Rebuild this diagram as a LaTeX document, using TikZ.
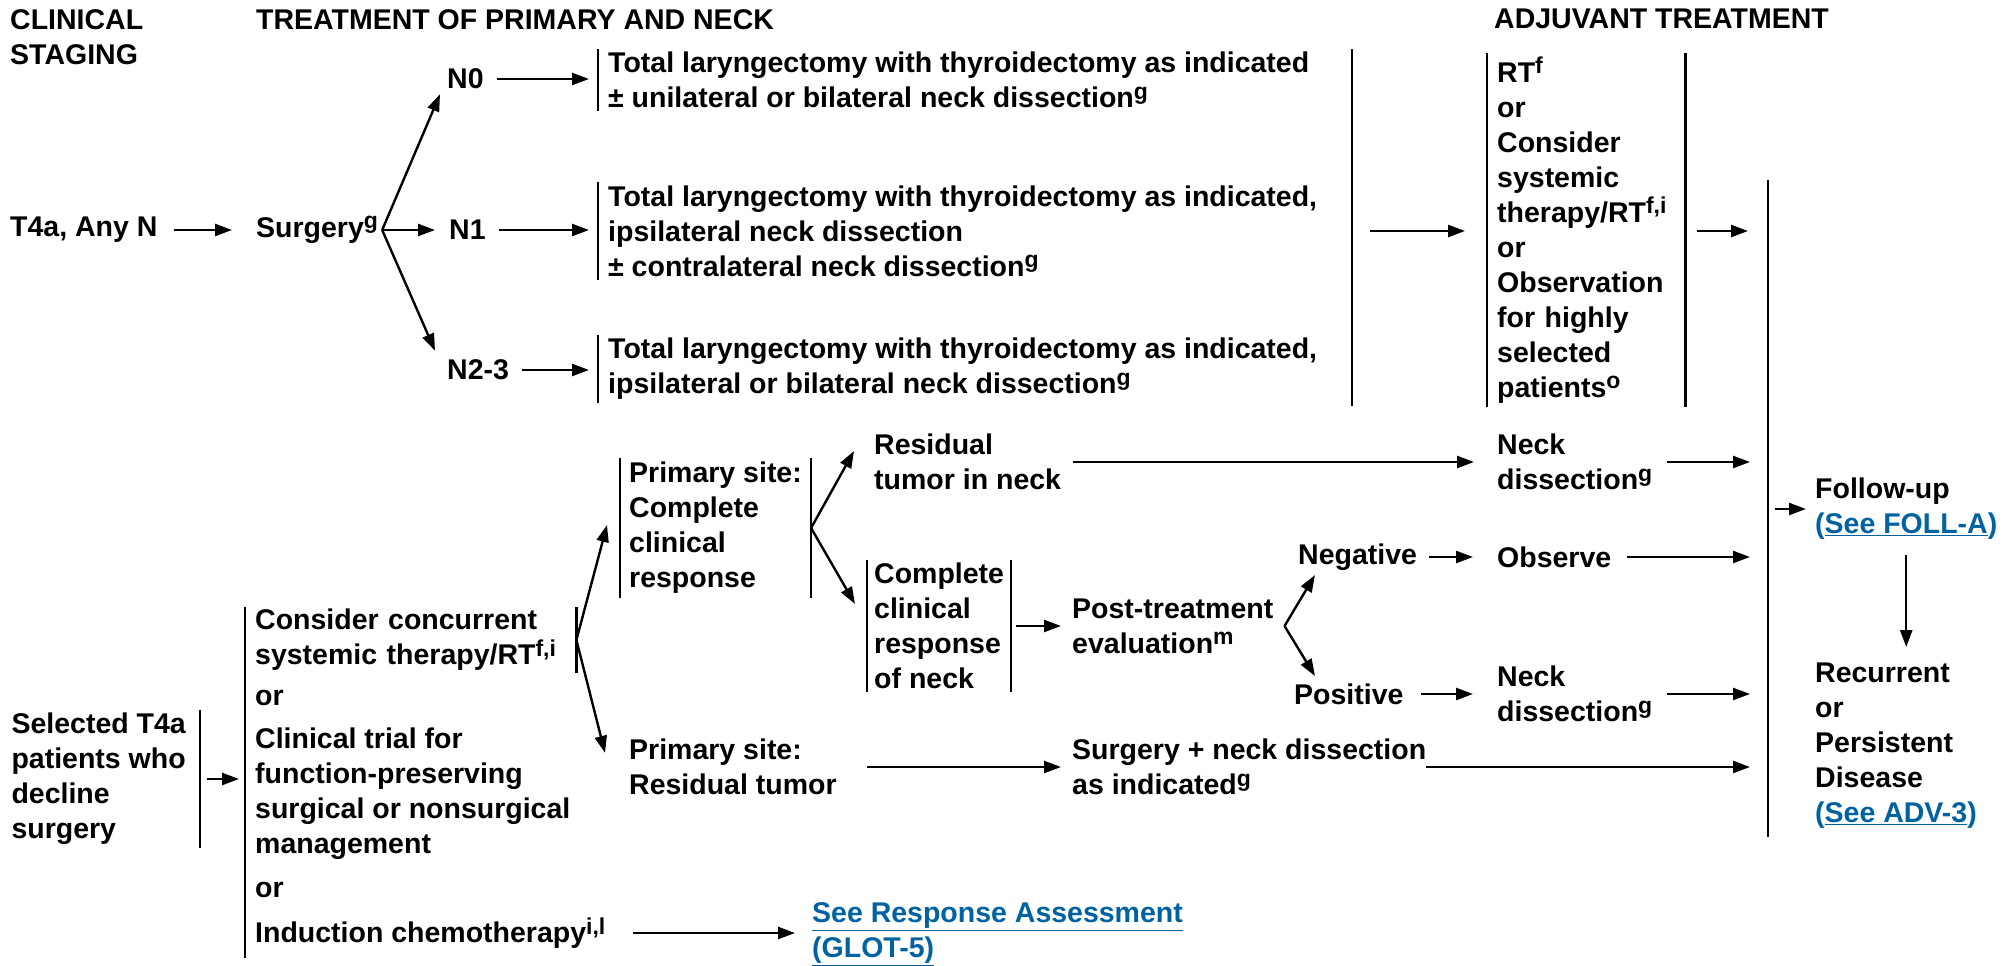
\documentclass[tikz,border=0pt]{standalone}
\usepackage{fontspec}
\setmainfont{Liberation Sans}
\usetikzlibrary{arrows.meta}
\definecolor{linkblue}{RGB}{0,98,160}
\newcommand{\sq}[1]{\raisebox{0.3em}{\fontsize{23}{23}\selectfont #1}}
\newcommand{\lnk}[1]{\textcolor{linkblue}{#1}}

\begin{document}
\begin{tikzpicture}[x=1pt, y=-1pt,
  every node/.style={font=\bfseries\fontsize{28.5}{35}\selectfont, align=left, inner sep=0pt},
  txt/.style={anchor=west},
  blk/.style={anchor=west, inner xsep=10pt, inner ysep=3pt},
  arr/.style={-{Triangle[length=17pt,width=12pt]}, line width=2.4pt, shorten <=13pt, shorten >=13pt},
  fan/.style={arr, shorten <=0pt, shorten >=0pt},
  bar/.style={line width=2.4pt}]

\useasboundingbox (0,0) rectangle (2011,966);

% headings
\node[anchor=north west] (hstage) at (10,9) {CLINICAL\\STAGING};
\node[anchor=north west] (htreat) at (256,9) {TREATMENT OF PRIMARY AND NECK};
\node[anchor=north west] (hadj) at (1494,9) {ADJUVANT TREATMENT};

% surgery
\node[txt] (t4a) at (10,230) {T4a, Any N};
\node[txt] (surg) at (256,230) {Surgery\sq{g}};
\coordinate (split0) at ([xshift=4pt]surg.east);
\node[txt] (n0) at (447,79) {N0};
\node[txt] (n1) at (449,230) {N1};
\node[txt] (n23) at (447,370) {N2-3};
\node[blk] (b0) at (598,80) {Total laryngectomy with thyroidectomy as indicated\\± unilateral or bilateral neck dissection\sq{g}};
\node[blk] (b1) at (598,231) {Total laryngectomy with thyroidectomy as indicated,\\ipsilateral neck dissection\\± contralateral neck dissection\sq{g}};
\node[blk] (b2) at (598,369) {Total laryngectomy with thyroidectomy as indicated,\\ipsilateral or bilateral neck dissection\sq{g}};
\coordinate (jtop) at (1352,49);
\coordinate (jbot) at (1352,406);
\node[blk, text width=178pt, inner ysep=4pt] (rt) at (1487,230) {RT\sq{f}\\or\\Consider\\systemic\\therapy/RT\sq{f,i}\\or\\Observation\\for highly\\selected\\patients\sq{o}};

% follow-up
\coordinate (ftop) at (1768,180);
\coordinate (fbot) at (1768,837);
\node[txt] (follow) at (1815,509) {Follow-up\\\lnk{(\underline{See FOLL-A})}};
\node[txt] (recur) at (1815,746) {Recurrent\\or\\Persistent\\Disease\\\lnk{(\underline{See ADV-3})}};

% declined surgery
\node[anchor=east, inner xsep=14pt, inner ysep=3pt] (sel) at (200,779) {Selected T4a\\patients who\\decline\\surgery};
\node[anchor=west, inner xsep=10pt, inner ysep=2pt, text width=311pt] (opt1) at (245,640) {Consider concurrent\\systemic therapy/RT\sq{f,i}};
\node[txt] (or1) at (255,698) {or};
\node[txt] (opt2) at (255,794) {Clinical trial for\\function-preserving\\surgical or nonsurgical\\management};
\node[txt] (or2) at (255,890) {or};
\node[txt] (opt3) at (255,933) {Induction chemotherapy\sq{i,l}};
\node[blk, inner xsep=9pt, inner ysep=4pt] (pcr) at (620,528) {Primary site:\\Complete\\clinical\\response};
\node[txt] (prt) at (629,767) {Primary site:\\Residual tumor};
\node[txt] (resid) at (874,462) {Residual\\tumor in neck};
\node[blk, inner xsep=7pt] (ccrn) at (867,626) {Complete\\clinical\\response\\of neck};
\node[txt] (post) at (1072,626) {Post-treatment\\evaluation\sq{m}};
\coordinate (split3) at ([xshift=11pt]post.east);
\node[txt] (neg) at (1298,557) {Negative};
\node[txt] (pos) at (1294,694) {Positive};
\node[txt] (nd1) at (1497,462) {Neck\\dissection\sq{g}};
\node[txt] (obs) at (1497,557) {Observe};
\node[txt] (nd2) at (1497,694) {Neck\\dissection\sq{g}};
\node[txt] (surg2) at (1072,767) {Surgery + neck dissection\\as indicated\sq{g}};
\node[txt] (seeresp) at (812,934) {\lnk{\underline{See Response Assessment}}\\\lnk{\underline{(GLOT-5)}}};

% bars
\draw[bar] (b0.north west) -- (b0.south west);
\draw[bar] (b1.north west) -- (b1.south west);
\draw[bar] (b2.north west) -- (b2.south west);
\draw[bar] (jtop) -- (jbot);
\draw[bar] (rt.north west) -- (rt.south west);
\draw[bar] (rt.north east) -- (rt.south east);
\draw[bar] (ftop) -- (fbot);
\draw[bar] (sel.north east) -- (sel.south east);
\draw[bar] (opt1.north west) -- ([yshift=-9pt]opt1.north west |- opt3.south);
\draw[bar] (opt1.north east) -- (opt1.south east);
\draw[bar] (pcr.north west) -- (pcr.south west);
\draw[bar] (pcr.north east) -- (pcr.south east);
\draw[bar] (ccrn.north west) -- (ccrn.south west);
\draw[bar] (ccrn.north east) -- (ccrn.south east);

% arrows, top
\draw[arr, shorten <=16pt, shorten >=24pt] (t4a.east) -- (surg.west);
\draw[fan] (split0) -- ([xshift=-7pt,yshift=-5pt]n0.south west);
\draw[fan] (split0) -- ([xshift=-14pt]n1.west);
\draw[fan] (split0) -- ([xshift=-12pt,yshift=9pt]n23.north west);
\draw[arr, shorten >=9pt] (n0.east) -- (n0.east -| b0.west);
\draw[arr, shorten >=9pt] (n1.east) -- (n1.east -| b1.west);
\draw[arr, shorten >=9pt] (n23.east) -- (n23.east -| b2.west);
\draw[arr, shorten <=18pt, shorten >=22pt] (jtop |- b1.west) -- (rt.west |- b1.west);
\draw[arr, shorten <=12pt, shorten >=20pt] (rt.east |- b1.west) -- (ftop |- b1.west);
\draw[arr, shorten <=7pt, shorten >=9pt] (ftop |- follow.west) -- (follow.west);
\draw[arr, shorten <=15pt, shorten >=16pt] (follow.south) -- (follow.south |- recur.north);

% arrows, bottom
\draw[arr, shorten <=7pt, shorten >=6pt] (sel.east) -- (sel.east -| opt1.west);
\draw[fan] (opt1.east) -- ([xshift=-13pt,yshift=3pt]pcr.west);
\draw[fan] (opt1.east) -- ([xshift=-24pt,yshift=-14pt]prt.north west);
\draw[fan] (pcr.east) -- ([xshift=-20pt,yshift=11pt]resid.west);
\draw[fan] (pcr.east) -- ([xshift=-12pt,yshift=22pt]ccrn.west);
\draw[arr, shorten <=12pt, shorten >=23pt] (resid.east) -- (resid.east -| nd1.west);
\draw[arr, shorten <=15pt, shorten >=18pt] (nd1.east) -- (nd1.east -| ftop);
\draw[arr, shorten <=5pt, shorten >=11pt] (ccrn.east) -- (post.west);
\draw[fan] (split3) -- ([xshift=17pt,yshift=-18pt]neg.west);
\draw[fan] (split3) -- ([xshift=21pt,yshift=18pt]pos.west);
\draw[arr, shorten <=12pt, shorten >=24pt] (neg.east) -- (obs.west);
\draw[arr, shorten <=16pt, shorten >=18pt] (obs.east) -- (obs.east -| ftop);
\draw[arr, shorten <=17pt, shorten >=24pt] (pos.east) -- (nd2.west);
\draw[arr, shorten <=15pt, shorten >=18pt] (nd2.east) -- (nd2.east -| ftop);
\draw[arr, shorten <=30pt, shorten >=11pt] (prt.east) -- (surg2.west);
\draw[arr, shorten <=0pt, shorten >=18pt] (surg2.east) -- (surg2.east -| ftop);
\draw[arr, shorten <=27pt, shorten >=17pt] (opt3.east) -- (opt3.east -| seeresp.west);
\end{tikzpicture}
\end{document}
